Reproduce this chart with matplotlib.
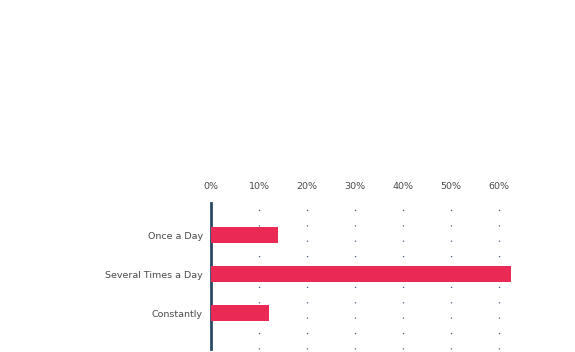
import matplotlib.pyplot as plt

# Data
categories = ["Once a Day", "Several Times a Day", "Constantly"]
values = [14, 62.5, 12]
tick_values = [0, 10, 20, 30, 40, 50, 60]
tick_labels = ["0%", "10%", "20%", "30%", "40%", "50%", "60%"]

W, H = 575, 352
fig = plt.figure(figsize=(W / 100, H / 100), dpi=100)

# axes placed in pixel coordinates
left, right, top, bottom = 211, 575, 203, 349
ax = fig.add_axes([left / W, (H - bottom) / H, (right - left) / W, (bottom - top) / H])

ax.barh(range(len(categories)), values, height=0.41, color="#ea2a55", zorder=3)

ax.set_xlim(0, (right - left) / 4.8)
ax.set_ylim(2.92, -0.82)

# dotted vertical gridlines
for v in tick_values[1:]:
    ax.axvline(v, ymin=0, ymax=1.02, color="#3d5a78", linestyle=(0, (1, 11.3)),
               linewidth=0.9, zorder=1, clip_on=False)

for s in ["top", "right", "bottom"]:
    ax.spines[s].set_visible(False)
ax.spines["left"].set_color("#2c4a66")
ax.spines["left"].set_linewidth(2)

ax.xaxis.tick_top()
ax.set_xticks(tick_values)
ax.set_xticklabels(tick_labels)
ax.tick_params(axis="x", length=0, pad=8.5, labelsize=6.8, labelcolor="#4a4a4a")
ax.set_yticks(range(len(categories)))
ax.set_yticklabels(categories)
ax.tick_params(axis="y", length=0, pad=6, labelsize=6.8, labelcolor="#4a4a4a")

for lbl in ax.get_xticklabels() + ax.get_yticklabels():
    lbl.set_fontfamily("DejaVu Sans")

fig.savefig("out.png", dpi=100)
